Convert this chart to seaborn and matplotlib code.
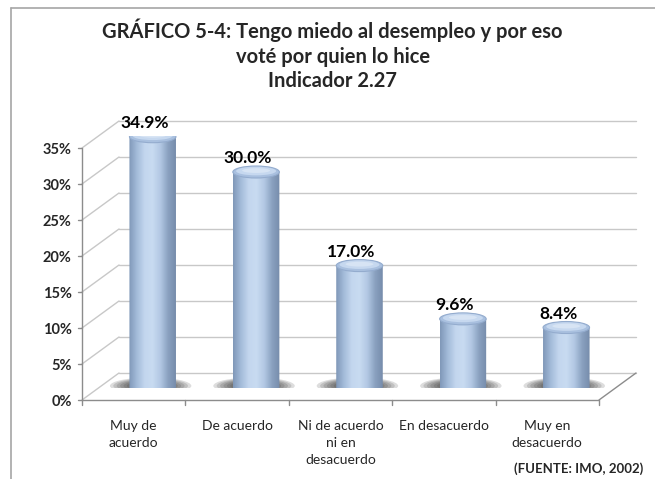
import numpy as np
import matplotlib
matplotlib.use('Agg')
import matplotlib.pyplot as plt
import matplotlib.transforms as mtransforms
import seaborn as sns
from matplotlib.path import Path
from matplotlib.patches import PathPatch, Ellipse
from matplotlib.lines import Line2D
from matplotlib.colors import LinearSegmentedColormap

# datos del gráfico
categorias = ['Muy de\nacuerdo', 'De acuerdo', 'Ni de acuerdo\nni en\ndesacuerdo',
              'En desacuerdo', 'Muy en\ndesacuerdo']
valores = [34.9, 30.0, 17.0, 9.6, 8.4]
etiquetas = ['34.9%', '30.0%', '17.0%', '9.6%', '8.4%']
ticks_y = [0, 5, 10, 15, 20, 25, 30, 35]

titulo = 'GRÁFICO 5-4: Tengo miedo al desempleo y por eso\nvoté por quien lo hice\nIndicador 2.27'
fuente = '(FUENTE: IMO, 2002)'

sns.set_style('white')
plt.rcParams['font.family'] = ['Lato', 'DejaVu Sans']

W, H = 655, 479
fig = plt.figure(figsize=(W / 100, H / 100), dpi=100)
# plano de las barras (en pixeles)
ax = fig.add_axes([101 / W, 91 / H, 517 / W, 252 / H])

sns.barplot(x=categorias, y=valores, width=0.45, ax=ax, color='#b9cde8')
ax.set_xlim(-0.5, 4.5)
ax.set_ylim(0, 35)
ax.set_xlabel('')
ax.set_ylabel('')
for s in ax.spines.values():
    s.set_visible(False)

px_x = 517 / 5.0   # pixeles por unidad x
px_y = 252 / 35.0  # pixeles por unidad y
# desplazamientos de perspectiva
bx, by = 18 / px_x, 15 / px_y      # pared del fondo
fx, fy = -19 / px_x, -12 / px_y    # plano frontal

gris_grid = '#c8c8c8'
gris_eje = '#8c8c8c'

# pared del fondo y pared lateral
for t in ticks_y:
    ax.plot([-0.5 + bx, 4.5 + bx], [t + by, t + by], color=gris_grid, lw=1, clip_on=False, zorder=0)
    ax.plot([-0.5 + fx, -0.5 + bx], [t + fy, t + by], color=gris_grid, lw=1, clip_on=False, zorder=0)
# piso
ax.plot([4.5 + fx, 4.5 + bx], [fy, by], color=gris_eje, lw=1, clip_on=False, zorder=0)
ax.plot([-0.5 + fx, 4.5 + fx], [fy, fy], color=gris_eje, lw=1, clip_on=False, zorder=0)
# eje vertical frontal
ax.plot([-0.5 + fx, -0.5 + fx], [fy, 35 + fy], color=gris_eje, lw=1, clip_on=False, zorder=0)
for t in ticks_y:
    ax.plot([-0.5 + fx - 4 / px_x, -0.5 + fx], [t + fy, t + fy], color=gris_eje, lw=1, clip_on=False)
for i in range(6):
    ax.plot([i - 0.5 + fx] * 2, [fy, fy - 5 / px_y], color=gris_eje, lw=1, clip_on=False)

# etiquetas de ejes desplazadas al plano frontal
ax.set_yticks(ticks_y)
ax.set_yticklabels([f'{t}%' for t in ticks_y], fontsize=10.5, fontweight='bold')
ax.tick_params(axis='both', length=0)
ax.tick_params(axis='y', pad=21)
ax.tick_params(axis='x', pad=23)
off_y = mtransforms.ScaledTranslation(0, -12 / 100, fig.dpi_scale_trans)
for lab in ax.get_yticklabels():
    lab.set_transform(lab.get_transform() + off_y)
off_x = mtransforms.ScaledTranslation(-19 / 100, 0, fig.dpi_scale_trans)
for lab in ax.get_xticklabels():
    lab.set_transform(lab.get_transform() + off_x)
    lab.set_fontsize(10)
    lab.set_linespacing(1.52)
    lab.set_verticalalignment('top')

# cilindros
cmap_cuerpo = LinearSegmentedColormap.from_list(
    'cuerpo', ['#7f97b8', '#a3bbd9', '#c3d6ee', '#c8dbf1', '#b3c8e4', '#8aa1c0', '#768cab'])
grad = np.linspace(0, 1, 256).reshape(1, -1)
eh = 12 / px_y  # alto de la elipse

for p, v, txt in zip(ax.patches, valores, etiquetas):
    x0 = p.get_x()
    w = p.get_width()
    xc = x0 + w / 2
    p.set_visible(False)

    # sombra
    for k in range(10):
        f = 1 - k / 12
        sh = Ellipse((xc - 0.02, 0.3), w * 1.75 * f, eh * 1.4 * f, facecolor='#2c2c2c',
                     edgecolor='none', alpha=0.16, zorder=1)
        ax.add_patch(sh)

    ang = np.linspace(np.pi, 2 * np.pi, 40)
    xs = list(xc + w / 2 * np.cos(ang)) + [x0 + w, x0]
    ys = list(eh / 2 * np.sin(ang)) + [v, v]
    verts = list(zip(xs, ys)) + [(xs[0], ys[0])]
    codes = [Path.MOVETO] + [Path.LINETO] * (len(verts) - 2) + [Path.CLOSEPOLY]
    cuerpo = PathPatch(Path(verts, codes), facecolor='none', edgecolor='none', zorder=2)
    ax.add_patch(cuerpo)
    im = ax.imshow(grad, cmap=cmap_cuerpo, aspect='auto',
                   extent=[x0, x0 + w, -eh, v + eh], zorder=2)
    im.set_clip_path(cuerpo)

    # tapa
    ax.add_patch(Ellipse((xc, v), w, eh, facecolor='#a9c0df', edgecolor='#94acce', lw=0.8, zorder=3))
    ax.add_patch(Ellipse((xc, v + eh * 0.08), w * 0.86, eh * 0.72, facecolor='#c6d8ef',
                         edgecolor='none', zorder=3))
    ax.add_patch(Ellipse((xc, v + eh * 0.12), w * 0.6, eh * 0.4, facecolor='#d7e4f4',
                         edgecolor='none', zorder=3))

    ax.text(xc - 0.08, v + eh * 0.5, txt, ha='center', va='bottom',
            fontsize=12.5, fontweight='bold', color='black', zorder=4)

# titulo y fuente
fig.text(0.508, 1 - 19 / H, titulo, ha='center', va='top', fontsize=14.5,
         fontweight='bold', linespacing=1.28)
fig.text(643 / W, 1 - 469 / H, fuente, ha='right', va='center', fontsize=9.5, fontweight='bold')

# marco
fig.add_artist(Line2D([11 / W, 1], [1 - 8 / H] * 2, color='#a6a6a6', lw=1.2, transform=fig.transFigure))
fig.add_artist(Line2D([11 / W] * 2, [0, 1 - 8 / H], color='#a6a6a6', lw=1.2, transform=fig.transFigure))

fig.savefig('out.png', dpi=100)
